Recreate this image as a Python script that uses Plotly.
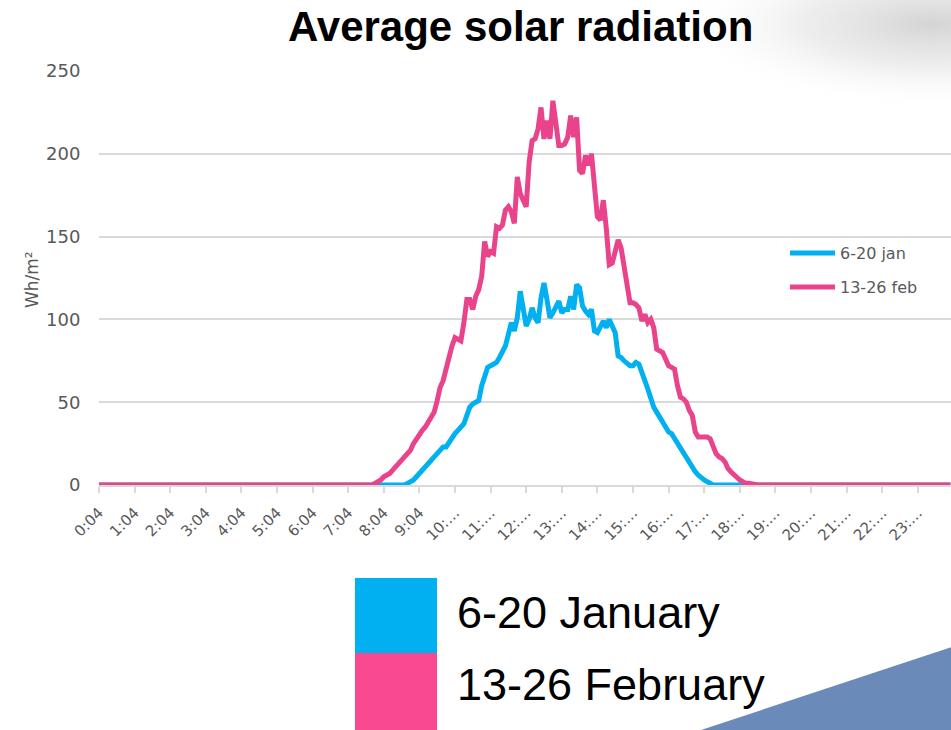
import base64
import plotly.graph_objects as go

# ---------------- data ----------------
n_points = 288  # 5-minute readings from 0:04 to 23:59
tick_index = [0, 12, 24, 36, 48, 60, 72, 84, 96, 108, 120, 132,
              144, 156, 168, 180, 192, 204, 216, 228, 240, 252, 264, 276]
tick_labels = ["0:04", "1:04", "2:04", "3:04", "4:04", "5:04", "6:04", "7:04",
               "8:04", "9:04", "10:…", "11:…", "12:…", "13:…", "14:…", "15:…",
               "16:…", "17:…", "18:…", "19:…", "20:…", "21:…", "22:…", "23:…"]

jan_start = 104
jan_day = [1, 2, 3, 5, 7, 8, 10, 12, 14, 16, 19, 21, 23, 23, 26, 29, 31, 33, 35, 37,
           42, 47, 49, 50, 51, 60, 66, 71, 72, 73, 74, 77, 80, 84, 91, 98, 93, 101, 117, 106,
           96, 100, 107, 101, 98, 113, 122, 112, 101, 104, 108, 111, 104, 106, 106, 114, 106, 121, 119, 108,
           105, 103, 106, 93, 92, 96, 99, 95, 100, 96, 92, 78, 77, 75, 73, 72, 72, 74, 73, 67,
           63, 58, 52, 47, 44, 41, 37, 35, 32, 31, 28, 25, 22, 19, 16, 13, 10, 8, 6, 4,
           3, 2, 1]
feb_start = 93
feb_day = [1, 2, 3, 5, 6, 7, 9, 11, 12, 14, 16, 19, 21, 25, 28, 31, 33, 35, 38, 41,
           44, 51, 59, 63, 69, 77, 84, 89, 88, 87, 98, 112, 112, 106, 114, 118, 126, 147, 138, 141,
           140, 156, 155, 157, 166, 168, 165, 158, 186, 176, 172, 168, 195, 208, 209, 215, 228, 209, 220, 209,
           232, 218, 205, 205, 206, 210, 223, 210, 222, 190, 188, 199, 193, 200, 182, 162, 160, 172, 155, 133,
           134, 142, 148, 143, 132, 118, 110, 110, 109, 107, 99, 103, 98, 100, 95, 82, 81, 80, 76, 72,
           71, 70, 60, 53, 52, 50, 45, 42, 32, 29, 29, 29, 29, 28, 24, 19, 17, 16, 14, 10,
           8, 6, 4, 3, 2, 1, 1, 0.5]

jan = [0] * jan_start + jan_day + [0] * (n_points - jan_start - len(jan_day))
feb = [0] * feb_start + feb_day + [0] * (n_points - feb_start - len(feb_day))
x_index = list(range(n_points))

series_names = ["6-20 jan", "13-26 feb"]
big_legend = ["6-20 January", "13-26 February"]

# ---------------- style ----------------
BLUE = "#00B0F0"
PINK = "#E9438C"
GRID = "#D9D9D9"
GREY = "#595959"

L, T, B, W, H = 99, 71, 245, 951, 730
PW = W - L
PH = H - T - B


def px_x(px):
    return (px - L) / PW


def px_y(py):
    return (H - B - py) / PH


fig = go.Figure()
fig.add_trace(go.Scatter(x=x_index, y=jan, mode="lines", name=series_names[0],
                         line=dict(color=BLUE, width=5), legend="legend", showlegend=True))
fig.add_trace(go.Scatter(x=x_index, y=feb, mode="lines", name=series_names[1],
                         line=dict(color=PINK, width=5), legend="legend2", showlegend=True))

# background gradient (top right) as svg image
svg = ('<svg xmlns="http://www.w3.org/2000/svg" width="400" height="120" viewBox="0 0 400 120" '
       'preserveAspectRatio="none"><defs><radialGradient id="g" cx="0.8" cy="0.3" r="0.65">'
       '<stop offset="0" stop-color="#d4d4d4" stop-opacity="1"/>'
       '<stop offset="0.5" stop-color="#e2e2e2" stop-opacity="0.6"/>'
       '<stop offset="1" stop-color="#ffffff" stop-opacity="0"/></radialGradient></defs>'
       '<rect width="400" height="120" fill="url(#g)"/></svg>')
uri = "data:image/svg+xml;base64," + base64.b64encode(svg.encode()).decode()

fig.add_layout_image(dict(source=uri, xref="paper", yref="paper",
                          x=px_x(620), y=px_y(-15), sizex=px_x(1010) - px_x(620),
                          sizey=px_y(-15) - px_y(115), sizing="stretch",
                          xanchor="left", yanchor="top", layer="below"))

shapes = [
    # legend squares
    dict(type="rect", xref="paper", yref="paper", x0=px_x(355), x1=px_x(437),
         y0=px_y(653), y1=px_y(578), fillcolor=BLUE, line=dict(width=0)),
    dict(type="rect", xref="paper", yref="paper", x0=px_x(355), x1=px_x(437),
         y0=px_y(730), y1=px_y(653), fillcolor="#F94990", line=dict(width=0)),
    # decorative triangle
    dict(type="path", xref="paper", yref="paper",
         path=f"M {px_x(698)},{px_y(731)} L {px_x(952)},{px_y(647)} L {px_x(952)},{px_y(731)} Z",
         fillcolor="#6A8BB9", line=dict(width=0)),
]

annotations = [
    dict(text="<b>Average solar radiation</b>", xref="paper", yref="paper",
         x=px_x(520), y=px_y(27), xanchor="center", yanchor="middle", showarrow=False,
         font=dict(family="Liberation Sans", size=42, color="#000000")),
    dict(text="Wh/m²", xref="paper", yref="paper", x=px_x(32), y=px_y(280),
         xanchor="center", yanchor="middle", textangle=-90, showarrow=False,
         font=dict(family="DejaVu Sans", size=17, color=GREY)),
    dict(text=big_legend[0], xref="paper", yref="paper", x=px_x(455), y=px_y(612),
         xanchor="left", yanchor="middle", showarrow=False,
         font=dict(family="Liberation Sans", size=45, color="#000000")),
    dict(text=big_legend[1], xref="paper", yref="paper", x=px_x(455), y=px_y(684),
         xanchor="left", yanchor="middle", showarrow=False,
         font=dict(family="Liberation Sans", size=45, color="#000000")),
]

legend_style = dict(xanchor="left", yanchor="middle", bgcolor="rgba(0,0,0,0)",
                    font=dict(family="DejaVu Sans", size=16, color=GREY),
                    borderwidth=0, itemwidth=45)

fig.update_layout(
    width=W, height=H, autosize=False, showlegend=True,
    margin=dict(l=L, r=0, t=T, b=B, pad=0),
    paper_bgcolor="#FFFFFF", plot_bgcolor="rgba(0,0,0,0)",
    shapes=shapes, annotations=annotations,
    legend=dict(x=px_x(785), y=px_y(253), **legend_style),
    legend2=dict(x=px_x(785), y=px_y(287), **legend_style),
    xaxis=dict(range=[0, 287.2], tickmode="array", tickvals=tick_index, ticktext=tick_labels,
               tickangle=-45, ticks="outside", ticklen=6, tickcolor=GRID, tickwidth=1.5,
               ticklabelstandoff=5,
               showgrid=False, zeroline=False, showline=True, linecolor=GRID, linewidth=2,
               tickfont=dict(family="DejaVu Sans", size=15, color=GREY)),
    yaxis=dict(range=[0, 250], tickvals=[0, 50, 100, 150, 200, 250], showgrid=True,
               gridcolor=GRID, gridwidth=2, zeroline=False, showline=False,
               ticks="outside", ticklen=14, tickcolor="rgba(0,0,0,0)",
               tickfont=dict(family="DejaVu Sans", size=18, color=GREY)),
)

fig.write_html("out.html")
